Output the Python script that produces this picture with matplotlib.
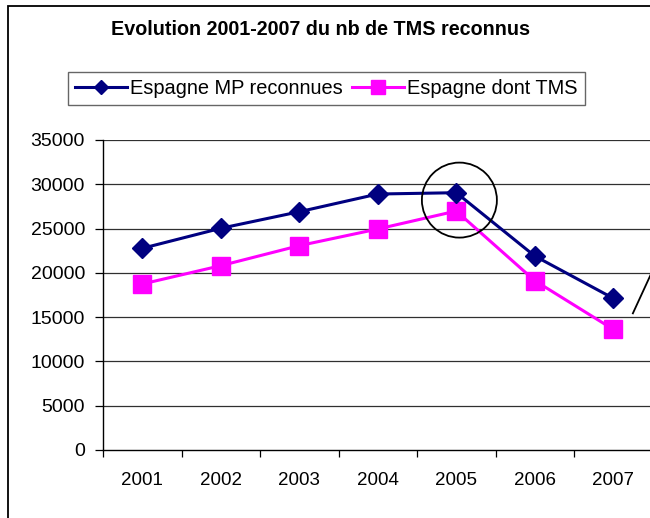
import matplotlib
matplotlib.use("Agg")
import matplotlib.pyplot as plt
from matplotlib.patches import Circle, Rectangle
from matplotlib.transforms import ScaledTranslation
from matplotlib.lines import Line2D

plt.rcParams['font.family'] = ['Liberation Sans', 'DejaVu Sans']

# data
years = ['2001', '2002', '2003', '2004', '2005', '2006', '2007']
mp_reconnues = [22770, 25030, 26900, 28900, 29050, 21900, 17130]
dont_tms = [18740, 20810, 23070, 24950, 26980, 19120, 13620]
yticks = [0, 5000, 10000, 15000, 20000, 25000, 30000, 35000]

navy = '#000080'
magenta = '#FF00FF'

fig = plt.figure(figsize=(6.5, 5.18), dpi=100)
ax = fig.add_axes([103/650, 68/518, 549.5/650, 310/518])

x = list(range(len(years)))
l1, = ax.plot(x, mp_reconnues, color=navy, lw=2.2, marker='D', ms=10,
              label='Espagne MP reconnues', zorder=4)
l2, = ax.plot(x, dont_tms, color=magenta, lw=2.2, marker='s', ms=13,
              label='Espagne dont TMS', zorder=3)

ax.set_xlim(-0.5, len(years) - 0.5)
ax.set_ylim(0, 35000)
ax.set_yticks(yticks)
ax.set_yticklabels([str(v) for v in yticks])
for v in yticks[1:]:
    ax.axhline(v, color='#303030', lw=0.9, zorder=1)

ax.set_xticks(x)
ax.set_xticklabels(years)
ax.set_xticks([i - 0.5 for i in range(len(years) + 1)], minor=True)
ax.tick_params(axis='x', which='major', length=0, pad=16, labelsize=13.5)
ax.tick_params(axis='x', which='minor', length=5, width=0.9, direction='out')
ax.tick_params(axis='y', length=6, width=0.9, pad=7, labelsize=14)

for s in ['top', 'right']:
    ax.spines[s].set_visible(False)
ax.spines['left'].set_linewidth(1.0)
ax.spines['bottom'].set_linewidth(1.0)

# circle around 2005
cy = (mp_reconnues[4] + dont_tms[4]) / 2 + 200
circ = Circle((0, 0), radius=0.375, fill=False, edgecolor='black', lw=1.3,
              transform=fig.dpi_scale_trans + ScaledTranslation(4.04, cy, ax.transData),
              zorder=5, clip_on=False)
ax.add_patch(circ)

# arrow line leaving the chart on the right
ax.add_line(Line2D([6.25, 6.55], [15430, 21200], color='black', lw=1.3,
                   clip_on=False, zorder=5))

# title
fig.text(320.5/650, 1 - 29.5/518, 'Evolution 2001-2007 du nb de TMS reconnus',
         ha='center', va='center', fontsize=14.2, fontweight='bold')

# legend
leg = fig.legend(handles=[l1, l2], loc='center', ncol=2,
                 bbox_to_anchor=(326.5/650, 1 - 88/518), fontsize=14.4,
                 frameon=True, fancybox=False, edgecolor='#404040',
                 handlelength=2.6, handletextpad=0.15, columnspacing=0.45,
                 borderpad=0.35, markerscale=0.75)
leg.get_frame().set_linewidth(1.0)

# outer frame
fig.patches.append(Rectangle((8/650, -0.5), 2, 1.5 - 6/518, fill=False,
                             edgecolor='black', lw=1.3,
                             transform=fig.transFigure, figure=fig))

fig.savefig('out.png', dpi=100)
